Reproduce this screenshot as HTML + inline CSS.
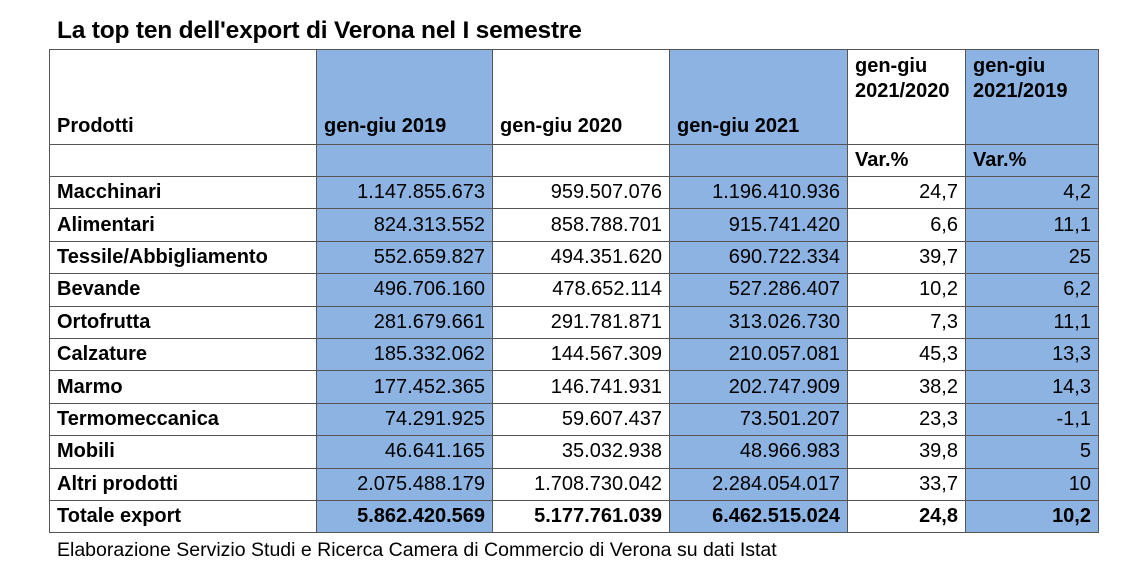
<!DOCTYPE html>
<html><head><meta charset="utf-8"><style>
body{margin:0;width:1138px;height:577px;background:#fff;font-family:"Liberation Sans",sans-serif;color:#000;overflow:hidden;position:relative}
#title{position:absolute;left:57px;top:17px;font-size:24.5px;font-weight:bold;letter-spacing:-0.2px}
table{position:absolute;left:49px;top:49px;border-collapse:collapse;table-layout:fixed}
td{border:1.5px solid #555;padding:0 7px;font-size:20px;white-space:nowrap;overflow:hidden}
.b{background:#8db3e2}
.r{text-align:right}
.bold{font-weight:bold}
tr.h td{height:88px;vertical-align:bottom;padding-bottom:6px;font-weight:bold}
tr.h td.t{vertical-align:top;padding-top:4px;padding-bottom:0;line-height:25px}
tr.s td{height:31px;font-weight:bold}
tr.d td{height:31.4px}
td.n{font-weight:bold}
#src{position:absolute;left:57px;top:539px;font-size:19.5px}
</style></head><body>
<div id="title">La top ten dell'export di Verona nel I semestre</div>
<table>
<colgroup><col style="width:267px"><col style="width:176px"><col style="width:177px"><col style="width:178px"><col style="width:118px"><col style="width:133px"></colgroup>
<tr class="h">
<td>Prodotti</td>
<td class="b">gen-giu 2019</td>
<td>gen-giu 2020</td>
<td class="b">gen-giu 2021</td>
<td class="t">gen-giu<br>2021/2020</td>
<td class="t b">gen-giu<br>2021/2019</td>
</tr>
<tr class="s">
<td></td><td class="b"></td><td></td><td class="b"></td>
<td>Var.%</td>
<td class="b">Var.%</td>
</tr>
<tbody id="body"></tbody>
</table>
<div id="src">Elaborazione Servizio Studi e Ricerca Camera di Commercio di Verona su dati Istat</div>
<script>
const products=["Macchinari","Alimentari","Tessile/Abbigliamento","Bevande","Ortofrutta","Calzature","Marmo","Termomeccanica","Mobili","Altri prodotti","Totale export"];
const v2019=["1.147.855.673","824.313.552","552.659.827","496.706.160","281.679.661","185.332.062","177.452.365","74.291.925","46.641.165","2.075.488.179","5.862.420.569"];
const v2020=["959.507.076","858.788.701","494.351.620","478.652.114","291.781.871","144.567.309","146.741.931","59.607.437","35.032.938","1.708.730.042","5.177.761.039"];
const v2021=["1.196.410.936","915.741.420","690.722.334","527.286.407","313.026.730","210.057.081","202.747.909","73.501.207","48.966.983","2.284.054.017","6.462.515.024"];
const var2120=["24,7","6,6","39,7","10,2","7,3","45,3","38,2","23,3","39,8","33,7","24,8"];
const var2119=["4,2","11,1","25","6,2","11,1","13,3","14,3","-1,1","5","10","10,2"];
const body=document.getElementById('body');
products.forEach((p,i)=>{
  const tr=document.createElement('tr');
  tr.className='d';
  
  
  const total=i===products.length-1;
  const cells=[[p,'n'],[v2019[i],'b r'],[v2020[i],'r'],[v2021[i],'b r'],[var2120[i],'r'],[var2119[i],'b r']];
  cells.forEach((c,j)=>{
    const td=document.createElement('td');
    td.textContent=c[0];
    td.className=c[1]+(total?' bold':'');
    
    
    tr.appendChild(td);
  });
  body.appendChild(tr);
});
</script>
</body></html>
